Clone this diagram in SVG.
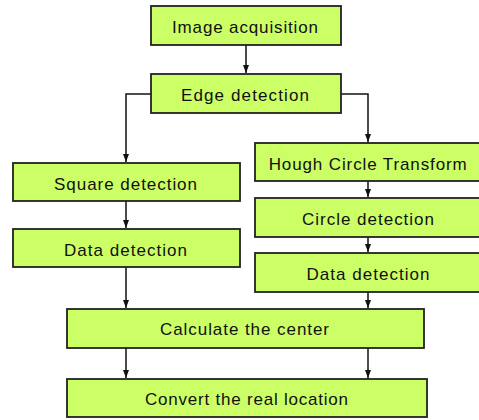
<svg xmlns="http://www.w3.org/2000/svg" width="479" height="420" viewBox="0 0 479 420">
<defs>
<style>
.box rect{fill:#CCFF66;stroke:#222;stroke-width:1.8}
.box text{font-family:"Liberation Sans",Arial,sans-serif;font-size:17px;fill:#111;text-anchor:middle}
.conn path{fill:none;stroke:#111;stroke-width:1.5}
</style>
<marker id="ah" markerUnits="userSpaceOnUse" markerWidth="8" markerHeight="8" viewBox="0 0 8 8" refX="8" refY="4" orient="auto">
<path d="M0,1 L8,4 L0,7 Z" fill="#111"/>
</marker>
</defs>
<rect width="479" height="420" fill="#fff"/>
<g class="conn">
<path d="M246,45 V73" marker-end="url(#ah)"/>
<path d="M151,94 H126 V162" marker-end="url(#ah)"/>
<path d="M341,94 H368 V142" marker-end="url(#ah)"/>
<path d="M126,201 V228" marker-end="url(#ah)"/>
<path d="M126,267 V308" marker-end="url(#ah)"/>
<path d="M368,181 V197" marker-end="url(#ah)"/>
<path d="M368,237 V252" marker-end="url(#ah)"/>
<path d="M368,292 V308" marker-end="url(#ah)"/>
<path d="M126,348 V378" marker-end="url(#ah)"/>
<path d="M368,348 V378" marker-end="url(#ah)"/>
</g>
<g id="n1" class="box"><rect x="151" y="6" width="190" height="39"/><text x="245" y="32.5" textLength="146" lengthAdjust="spacing">Image acquisition</text></g>
<g id="n2" class="box"><rect x="151" y="74" width="190" height="39"/><text x="245" y="100.5" textLength="128" lengthAdjust="spacing">Edge detection</text></g>
<g id="n3" class="box"><rect x="13" y="163" width="227" height="38"/><text x="125.5" y="189.5" textLength="143" lengthAdjust="spacing">Square detection</text></g>
<g id="n4" class="box"><rect x="13" y="229" width="227" height="38"/><text x="125.5" y="255.5" textLength="123" lengthAdjust="spacing">Data detection</text></g>
<g id="n5" class="box"><rect x="255" y="143" width="228" height="38"/><text x="367.7" y="169.5" textLength="198" lengthAdjust="spacing">Hough Circle Transform</text></g>
<g id="n6" class="box"><rect x="255" y="198" width="228" height="39"/><text x="368" y="225" textLength="132" lengthAdjust="spacing">Circle detection</text></g>
<g id="n7" class="box"><rect x="255" y="253" width="228" height="39"/><text x="368" y="280" textLength="123" lengthAdjust="spacing">Data detection</text></g>
<g id="n8" class="box"><rect x="67" y="309" width="357" height="39"/><text x="244.5" y="335" textLength="169" lengthAdjust="spacing">Calculate the center</text></g>
<g id="n9" class="box"><rect x="67" y="379" width="360" height="38"/><text x="246.5" y="404.5" textLength="203" lengthAdjust="spacing">Convert the real location</text></g>
</svg>
